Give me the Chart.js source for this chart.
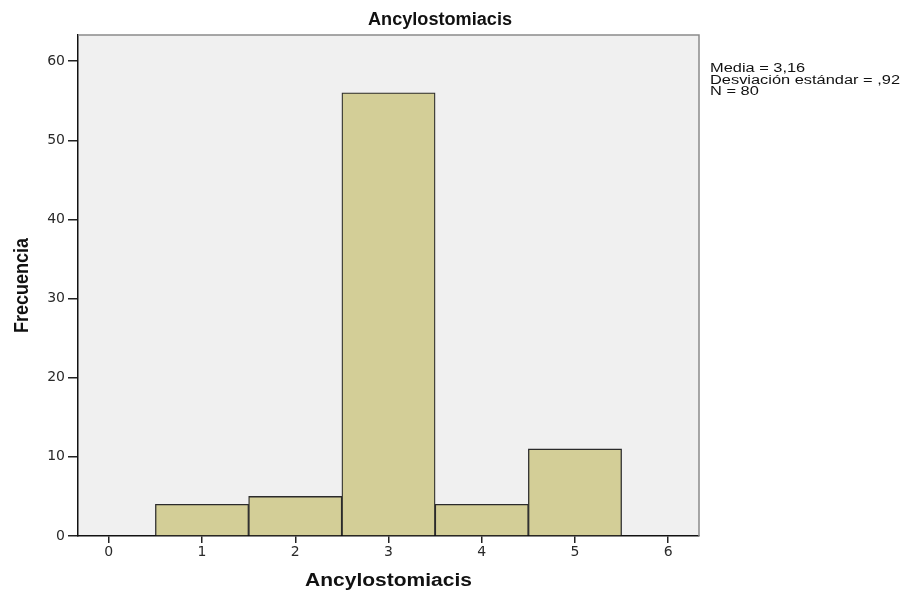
<!DOCTYPE html>
<html>
<head>
<meta charset="utf-8">
<script src="https://cdn.jsdelivr.net/npm/chart.js@4"></script>
<style>
  html, body { margin: 0; padding: 0; background: #ffffff; }
  #wrap { width: 907px; height: 592px; position: relative; }
</style>
</head>
<body>
<div id="wrap"><canvas id="c" width="907" height="592"></canvas></div>
<script>
const chartTitle = 'Ancylostomiacis';
const xAxisTitle = 'Ancylostomiacis';
const yAxisTitle = 'Frecuencia';
const binCenters = [1, 2, 3, 4, 5];
const frequencies = [4, 5, 56, 4, 11];
const xTickValues = [0, 1, 2, 3, 4, 5, 6];
const yTickValues = [0, 10, 20, 30, 40, 50, 60];
const statsLines = ['Media = 3,16', 'Desviación estándar = ,92', 'N = 80'];

const SANS = "'Liberation Sans', Arial, sans-serif";
const TICKFONT = "'DejaVu Sans', Verdana, sans-serif";

// draw text at a given font size, stretched horizontally to a target width
function drawFitted(ctx, text, x, y, weight, size, target, align) {
  ctx.font = weight + ' ' + size + 'px ' + SANS;
  const w = ctx.measureText(text).width;
  const k = target / w;
  ctx.save();
  ctx.translate(x, y);
  ctx.scale(k, 1);
  ctx.textAlign = align;
  ctx.fillText(text, 0, 0);
  ctx.restore();
  return k;
}

const decorPlugin = {
  id: 'decor',
  beforeDraw(chart) {
    const { ctx, chartArea: a } = chart;
    ctx.save();
    ctx.fillStyle = '#F0F0F0';
    ctx.fillRect(a.left, a.top, a.right - a.left, a.bottom - a.top);
    ctx.restore();
  },
  afterDraw(chart) {
    const { ctx, chartArea: a } = chart;
    ctx.save();
    ctx.strokeStyle = '#8a8a8a';
    ctx.lineWidth = 1.5;
    ctx.beginPath();
    ctx.moveTo(a.left, a.top);
    ctx.lineTo(a.right, a.top);
    ctx.lineTo(a.right, a.bottom);
    ctx.stroke();

    ctx.fillStyle = '#111';
    ctx.textBaseline = 'middle';
    drawFitted(ctx, chartTitle, 440, 20, 'bold', 18, 144, 'center');
    drawFitted(ctx, xAxisTitle, (a.left + a.right) / 2, 581, 'bold', 18, 167, 'center');
    ctx.save();
    ctx.translate(22, (a.top + a.bottom) / 2);
    ctx.rotate(-Math.PI / 2);
    drawFitted(ctx, yAxisTitle, 0, 0, 'bold', 20, 95, 'center');
    ctx.restore();
    ctx.font = '12.5px ' + SANS;
    const k = 190 / ctx.measureText(statsLines[1]).width;
    statsLines.forEach((t, i) => {
      ctx.save();
      ctx.translate(710, 69 + i * 11.2);
      ctx.scale(k, 1);
      ctx.textAlign = 'left';
      ctx.fillText(t, 0, 0);
      ctx.restore();
    });
    ctx.restore();
  }
};

new Chart(document.getElementById('c'), {
  type: 'bar',
  data: {
    datasets: [{
      data: binCenters.map((x, i) => ({ x: x, y: frequencies[i] })),
      backgroundColor: '#D3CE97',
      borderColor: '#2b2b2b',
      borderWidth: 1.3,
      barPercentage: 1,
      categoryPercentage: 1
    }]
  },
  options: {
    responsive: false,
    animation: false,
    layout: { padding: { left: 0, top: 35, right: 208, bottom: 0 } },
    plugins: { legend: { display: false }, tooltip: { enabled: false } },
    scales: {
      x: {
        type: 'linear',
        offset: false,
        min: -0.33,
        max: 6.33,
        afterBuildTicks(s) { s.ticks = xTickValues.map(v => ({ value: v })); },
        afterFit(s) { s.height = 56; },
        grid: { display: true, offset: false, drawOnChartArea: false, drawTicks: true, tickLength: 7, color: '#222', lineWidth: 1.5 },
        border: { display: true, color: '#111', width: 1.5 },
        ticks: { color: '#2a2a2a', font: { family: TICKFONT, size: 14 }, padding: 1, maxRotation: 0, autoSkip: false },
        title: { display: false }
      },
      y: {
        type: 'linear',
        min: 0,
        max: 63.3,
        afterBuildTicks(s) { s.ticks = yTickValues.map(v => ({ value: v })); },
        afterFit(s) { s.width = 78; },
        grid: { display: true, drawOnChartArea: false, drawTicks: true, tickLength: 10, color: '#222', lineWidth: 1.5 },
        border: { display: true, color: '#111', width: 1.5 },
        ticks: { color: '#2a2a2a', font: { family: TICKFONT, size: 14 }, padding: 3 },
        title: { display: false }
      }
    }
  },
  plugins: [decorPlugin]
});
</script>
</body>
</html>
